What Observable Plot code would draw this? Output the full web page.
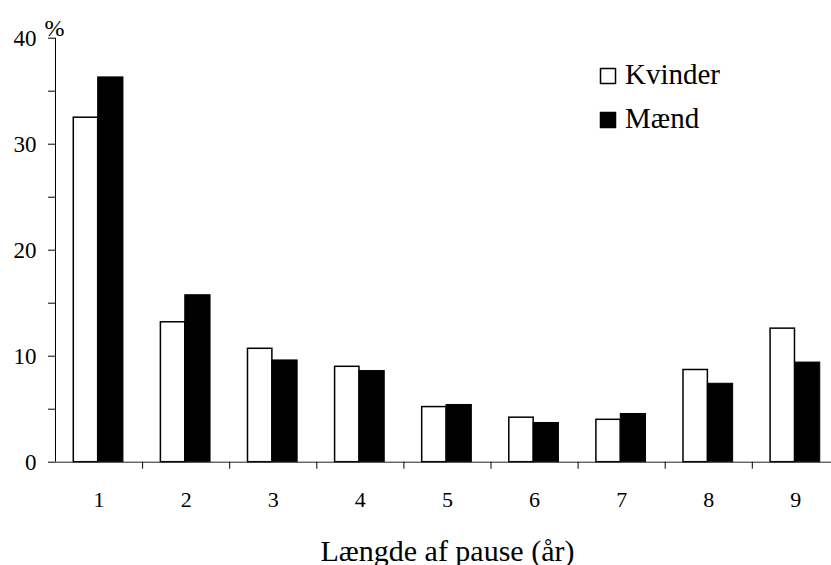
<!DOCTYPE html>
<html><head><meta charset="utf-8">
<script src="https://cdn.jsdelivr.net/npm/d3@7"></script>
<script src="https://cdn.jsdelivr.net/npm/@observablehq/plot@0.6"></script>
<style>
body{margin:0;background:#fff}
#wrap{position:relative;width:831px;height:565px;overflow:hidden;background:#fff}
#legend{position:absolute;left:0;top:0;pointer-events:none}
</style>
</head><body><div id="wrap"></div>
<script>
const categories = [1, 2, 3, 4, 5, 6, 7, 8, 9];
const kvinder = [32.5, 13.2, 10.7, 9.0, 5.2, 4.2, 4.0, 8.7, 12.6];
const maend = [36.3, 15.75, 9.6, 8.6, 5.4, 3.7, 4.55, 7.4, 9.4];
const seriesNames = ["Kvinder", "Mænd"];
const yTicks = [0, 10, 20, 30, 40];
const yMinorTicks = [5, 15, 25, 35];
const xLabel = "Længde af pause (år)";
const yLabel = "%";

const rows = categories.flatMap((c, i) => [
  {cat: c, sex: seriesNames[0], value: kvinder[i]},
  {cat: c, sex: seriesNames[1], value: maend[i]}
]);
const offs = {[seriesNames[0]]: [-0.29, -0.01], [seriesNames[1]]: [-0.01, 0.28]};
const boundaries = categories.slice(1).map(c => c - 0.5);

const chart = Plot.plot({
  width: 831, height: 565,
  marginLeft: 55, marginRight: -7.9, marginTop: 37.7, marginBottom: 103.3,
  style: {fontFamily: "'Liberation Serif', serif", fontSize: "22px", color: "#000", background: "#fff"},
  x: {type: "linear", domain: [0.5, 9.5]},
  y: {domain: [0, 40]},
  marks: [
    Plot.rect(rows.filter(d => d.sex === seriesNames[0]), {
      x1: d => d.cat + offs[d.sex][0], x2: d => d.cat + offs[d.sex][1],
      y1: 0, y2: "value", fill: "white", stroke: "black", strokeWidth: 1.5
    }),
    Plot.rect(rows.filter(d => d.sex === seriesNames[1]), {
      x1: d => d.cat + offs[d.sex][0], x2: d => d.cat + offs[d.sex][1],
      y1: 0, y2: "value", fill: "black", stroke: "black", strokeWidth: 1
    }),
    Plot.ruleY([0], {stroke: "#222", strokeWidth: 1}),
    Plot.ruleX([0.5], {stroke: "#000", strokeWidth: 1}),
    Plot.axisY(yTicks, {tickSize: 7, tickPadding: 12, label: null, fontSize: 23}),
    Plot.axisY(yMinorTicks, {tickSize: 7, tickFormat: () => "", label: null}),
    Plot.axisX(categories, {tickSize: 0, tickPadding: 29, label: null, fontSize: 22}),
    Plot.axisX(boundaries, {tickSize: 7, tickFormat: () => "", label: null}),
    Plot.text([xLabel], {text: d => d, frameAnchor: "bottom", dy: 88.7, fontSize: 30, lineAnchor: "middle"}),
    Plot.text([yLabel], {text: d => d, frameAnchor: "top-left", dx: -1, dy: -10, fontSize: 24, textAnchor: "middle", lineAnchor: "middle"})
  ]
});
const wrap = document.getElementById("wrap");
wrap.appendChild(chart);

// legend overlay
const ns = "http://www.w3.org/2000/svg";
const leg = document.createElementNS(ns, "svg");
leg.setAttribute("id", "legend");
leg.setAttribute("width", 831);
leg.setAttribute("height", 565);
const legendRows = [
  {name: seriesNames[0], fill: "white", top: 68.5, base: 84},
  {name: seriesNames[1], fill: "black", top: 112.5, base: 128}
];
for (const r of legendRows) {
  const rect = document.createElementNS(ns, "rect");
  rect.setAttribute("x", 600.5); rect.setAttribute("y", r.top);
  rect.setAttribute("width", 15); rect.setAttribute("height", 15);
  rect.setAttribute("fill", r.fill); rect.setAttribute("stroke", "black"); rect.setAttribute("stroke-width", 1.5);
  leg.appendChild(rect);
  const t = document.createElementNS(ns, "text");
  t.setAttribute("x", 625); t.setAttribute("y", r.base);
  t.setAttribute("font-family", "'Liberation Serif', serif");
  t.setAttribute("font-size", 29);
  t.textContent = r.name;
  leg.appendChild(t);
}
wrap.appendChild(leg);
</script>
</body></html>
